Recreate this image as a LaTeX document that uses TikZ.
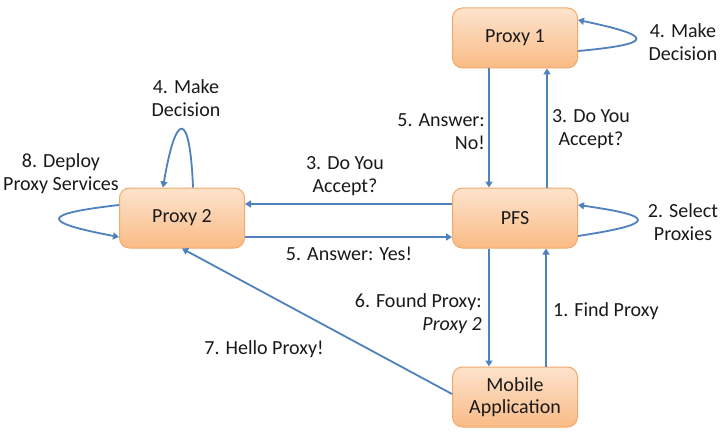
\documentclass[tikz,border=0pt]{standalone}
\usepackage{fontspec}
\setmainfont{Carlito}
\usetikzlibrary{arrows.meta}
\definecolor{arrowblue}{HTML}{4F81BD}
\definecolor{boxedge}{HTML}{F2A96B}
\definecolor{boxtop}{HTML}{FDE3CC}
\definecolor{boxbot}{HTML}{F9BB86}
\definecolor{txt}{HTML}{1A1A1A}
\tikzset{
  box/.style={draw=boxedge, line width=1pt, rounded corners=10pt, top color=boxtop, bottom color=boxbot,
    minimum width=125pt, minimum height=60pt, align=center, font=\fontsize{20}{22}\selectfont, text=txt},
  lbl/.style={font=\fontsize{20}{23}\selectfont, text=txt, inner sep=0pt},
  conn/.style={draw=arrowblue, line width=1.8pt, -{Triangle[length=6pt,width=7pt]}},
}
\begin{document}
\begin{tikzpicture}[x=1pt,y=-1pt]
\useasboundingbox[fill=white] (0,0) rectangle (726,436);
\node[box] (p1) at (515,38) {Proxy 1};
\node[box] (pfs) at (515,218) {PFS};
\node[box] (p2) at (182,218) {Proxy 2};
\node[box] (mob) at (515,397) {Mobile\\Application};

% vertical arrows
\draw[conn] ([xshift=-26pt]p1.south) -- ([xshift=-26pt]pfs.north);
\draw[conn] ([xshift=32pt]pfs.north) -- ([xshift=32pt]p1.south);
\draw[conn] ([xshift=-26pt]pfs.south) -- ([xshift=-26pt]mob.north);
\draw[conn] ([xshift=31pt]mob.north) -- ([xshift=31pt]pfs.south);
% horizontal arrows
\draw[conn] ([yshift=14pt]pfs.west) -- ([yshift=14pt]p2.east);
\draw[conn] ([yshift=-19pt]p2.east) -- ([yshift=-19pt]pfs.west);
% mobile -> proxy 2
\draw[conn] ([yshift=3pt]mob.west) -- (p2.south);

% self loops
\draw[conn] ([yshift=-13pt]p1.east) .. controls (655,44) and (655,36) .. ([yshift=18pt]p1.east);
\draw[conn] ([yshift=-18pt]pfs.east) .. controls (657,224) and (657,216) .. ([yshift=13pt]pfs.east);
\draw[conn] ([yshift=13pt]p2.west) .. controls (40,214) and (40,222) .. ([yshift=-19pt]p2.west);
\draw[conn] ([xshift=11pt]p2.north) .. controls (190,110) and (176,110) .. ([xshift=-19pt]p2.north);

% labels
\node[lbl, align=center] (l4a) at (683,42) {4. Make\\Decision};
\node[lbl, align=right, anchor=east] (l5a) at (485,132) {5. Answer:\\No!};
\node[lbl, align=center] (l3a) at (591,129) {3. Do You\\Accept?};
\node[lbl, align=center] (l4b) at (186,98) {4. Make\\Decision};
\node[lbl, align=center] (l8) at (61,174) {8. Deploy\\Proxy Services};
\node[lbl, align=center] (l3b) at (345,176) {3. Do You\\Accept?};
\node[lbl] (l5b) at (349,254) {5. Answer: Yes!};
\node[lbl, align=center] (l2) at (683,222) {2. Select\\Proxies};
\node[lbl, align=right, anchor=east] (l6) at (482,314) {6. Found Proxy:\\\textit{Proxy 2}};
\node[lbl, anchor=west] (l1) at (553,311) {1. Find Proxy};
\node[lbl] (l7) at (264,349) {7. Hello Proxy!};
\end{tikzpicture}
\end{document}
